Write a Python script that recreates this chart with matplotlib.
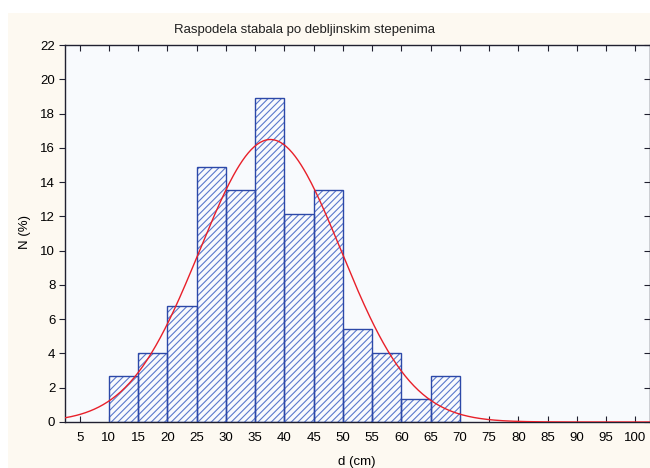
import matplotlib
matplotlib.use('Agg')
import matplotlib.pyplot as plt
from matplotlib.patches import Rectangle
import numpy as np

# bin left edges (cm) and share of trees per class (%)
bin_left = [10, 15, 20, 25, 30, 35, 40, 45, 50, 55, 60, 65]
percent = [2.70, 4.05, 6.76, 14.86, 13.51, 18.92, 12.16, 13.51, 5.41, 4.05, 1.35, 2.70]
bin_width = 5

# fitted normal curve
fit_mean = 37.6
fit_sd = 12.1

x_ticks = list(range(5, 101, 5))
y_ticks = list(range(0, 23, 2))

plt.rcParams['font.family'] = ['Liberation Sans', 'DejaVu Sans']
plt.rcParams['hatch.linewidth'] = 0.8

fig = plt.figure(figsize=(6.5, 4.68), dpi=100, facecolor='white')
fig.patches.append(Rectangle((8/650, 0), 1, 1 - 13/468, transform=fig.transFigure,
                             facecolor='#fdf9f1', edgecolor='none', zorder=-10))

ax = fig.add_axes([65/650, 1 - 422/468, 1 - 65/650, (422 - 45)/468])
ax.set_facecolor('#f8fafd')

ax.bar(bin_left, percent, width=bin_width, align='edge', facecolor='none',
       edgecolor='#5a78cc', linewidth=0, hatch='/////', zorder=2)
ax.bar(bin_left, percent, width=bin_width, align='edge', fill=False,
       edgecolor='#2c48a8', linewidth=1.0, zorder=3)

xs = np.linspace(2.5, 102.5, 400)
ys = bin_width * 100 * np.exp(-0.5 * ((xs - fit_mean) / fit_sd) ** 2) / (fit_sd * np.sqrt(2 * np.pi))
ax.plot(xs, ys, color='#e8202a', lw=1.0, zorder=4)

ax.set_xlim(2.5, 102.5)
ax.set_ylim(0, 22)
ax.set_xticks(x_ticks)
ax.set_yticks(y_ticks)
ax.tick_params(axis='x', direction='in', top=True, length=4, labelsize=9.5, pad=7, color='#202030')
ax.tick_params(axis='y', direction='out', length=4, labelsize=9.5, pad=3, color='#202030')
ax.tick_params(axis='y', which='major', right=True)
for t in ax.yaxis.get_major_ticks():
    t.tick2line.set_marker(matplotlib.lines.TICKLEFT)
for s in ax.spines.values():
    s.set_color('#202030')
    s.set_linewidth(1.0)

fig.text(305/650, 1 - 30/468, 'Raspodela stabala po debljinskim stepenima',
         ha='center', va='center', fontsize=9.5, color='#202020')
fig.text(357/650, 1 - 462/468, 'd (cm)', ha='center', va='center', fontsize=9.5)
fig.text(25/650, 1 - 232/468, 'N (%)', ha='center', va='center', rotation=90, fontsize=9.5)

fig.savefig('out.png', dpi=100, facecolor=fig.get_facecolor())
